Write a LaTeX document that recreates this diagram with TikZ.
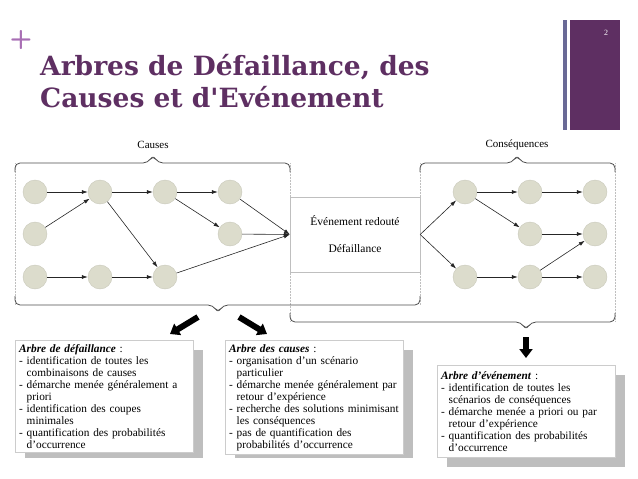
\documentclass[tikz,border=0pt]{standalone}
\usepackage{fontspec}
\setmainfont{Liberation Serif}
\newfontfamily\titlefont{DejaVu Serif}
\usetikzlibrary{arrows.meta, positioning}
\definecolor{titlepurple}{RGB}{94, 47, 98}
\definecolor{pluspurple}{RGB}{168, 110, 180}
\definecolor{barblue}{RGB}{106, 106, 150}
\definecolor{nodefill}{RGB}{220, 220, 204}
\definecolor{nodeline}{RGB}{200, 200, 186}
\definecolor{shadowgray}{RGB}{190, 190, 190}
\tikzset{
  evt/.style={circle, fill=nodefill, draw=nodeline, minimum size=24pt, inner sep=0pt},
  flow/.style={-{Latex[length=6pt, width=4pt]}, line width=0.6pt, black!85},
  brace/.style={rounded corners=5pt, line width=0.8pt, black!70},
  guide/.style={densely dotted, black!25, line width=0.5pt},
  fat/.style={-{Triangle[length=9pt, width=13pt]}, line width=6pt, black},
  infobox/.style={draw=black!20, fill=white, anchor=north west, align=left, inner sep=4pt,
    font=\fontsize{11.3}{12}\selectfont},
  shade/.style={fill=shadowgray, anchor=north west, inner sep=0pt}
}
\begin{document}
\begin{tikzpicture}[x=1pt, y=-1pt]
  \useasboundingbox (0,0) rectangle (638,479);

  % Title
  \node[text=pluspurple, font=\sffamily\bfseries\fontsize{26}{26}\selectfont] (plus) at (21,40) {+};
  \node[anchor=base west, text=titlepurple, font=\titlefont\bfseries\fontsize{26.5}{26.5}\selectfont, inner sep=0pt] (title1) at (40,75) {Arbres de Défaillance, des};
  \node[anchor=base west, text=titlepurple, font=\titlefont\bfseries\fontsize{26.5}{26.5}\selectfont, inner sep=0pt] (title2) at (40,107) {Causes et d'Evénement};
  \fill[barblue] (563,20) rectangle (567,130);
  \fill[titlepurple] (570,20) rectangle (620,130);
  \node[text=white, font=\fontsize{8}{8}\selectfont] (pagenum) at (606,33) {2};

  % Guides
  \draw[guide] (15,163) -- (15,305);
  \draw[guide] (290,163) -- (290,322);
  \draw[guide] (420,163) -- (420,305);
  \draw[guide] (615,163) -- (615,322);

  % Braces
  \draw[brace] (15,172) -- (15,163) -- (148,163) -- (153,155) -- (158,163) -- (290,163) -- (290,172);
  \node[font=\fontsize{11}{11}\selectfont] (causes) at (153,145) {Causes};
  \draw[brace] (420,172) -- (420,163) -- (512,163) -- (517,155) -- (522,163) -- (615,163) -- (615,172);
  \node[font=\fontsize{11}{11}\selectfont] (conseq) at (517,145) {Conséquences};
  \draw[brace] (15,296) -- (15,305) -- (213,305) -- (218,313) -- (223,305) -- (420,305) -- (420,296);
  \draw[brace] (290,313) -- (290,322) -- (521,322) -- (526,330) -- (531,322) -- (615,322) -- (615,313);

  % Central event
  \node[draw=black!25, minimum width=130pt, minimum height=75pt, align=center,
    font=\fontsize{11.5}{27}\selectfont] (event) at (355,234.5) {Événement redouté\\Défaillance};

  % Causes
  \node[evt] (ca11) at (35,192) {};
  \node[evt] (ca12) at (100,192) {};
  \node[evt] (ca13) at (165,192) {};
  \node[evt] (ca14) at (230,192) {};
  \node[evt] (ca21) at (35,234) {};
  \node[evt] (ca24) at (230,234) {};
  \node[evt] (ca31) at (35,277) {};
  \node[evt] (ca32) at (100,277) {};
  \node[evt] (ca33) at (165,277) {};
  \draw[flow] (ca11) -- (ca12);
  \draw[flow] (ca21) -- (ca12);
  \draw[flow] (ca12) -- (ca13);
  \draw[flow] (ca12) -- (ca33);
  \draw[flow] (ca13) -- (ca14);
  \draw[flow] (ca13) -- (ca24);
  \draw[flow] (ca31) -- (ca32);
  \draw[flow] (ca32) -- (ca33);
  \draw[flow] (ca14) -- (event.west);
  \draw[flow] (ca24) -- (event.west);
  \draw[flow] (ca33) -- (event.west);

  % Consequences
  \node[evt] (co11) at (465,192) {};
  \node[evt] (co12) at (530,192) {};
  \node[evt] (co13) at (595,192) {};
  \node[evt] (co22) at (530,234) {};
  \node[evt] (co23) at (595,234) {};
  \node[evt] (co31) at (465,277) {};
  \node[evt] (co32) at (530,277) {};
  \node[evt] (co33) at (595,277) {};
  \draw[flow] (event.east) -- (co11);
  \draw[flow] (event.east) -- (co31);
  \draw[flow] (co11) -- (co12);
  \draw[flow] (co11) -- (co22);
  \draw[flow] (co12) -- (co13);
  \draw[flow] (co22) -- (co23);
  \draw[flow] (co31) -- (co32);
  \draw[flow] (co32) -- (co23);
  \draw[flow] (co32) -- (co33);

  % Fat arrows
  \coordinate (fa1) at (198,317);
  \coordinate (fb1) at (170,334);
  \coordinate (fa2) at (239,317);
  \coordinate (fb2) at (267,334);
  \coordinate (fa3) at (526,337);
  \coordinate (fb3) at (526,358);
  \draw[fat] (fa1) -- (fb1);
  \draw[fat] (fa2) -- (fb2);
  \draw[fat] (fa3) -- (fb3);

  % Text boxes
  \fill[shadowgray] (25,350) rectangle (203,458);
  \node[infobox, minimum width=178pt, minimum height=108pt, text width=170pt] (fault) at (15,340)
    {\textbf{\textit{Arbre de défaillance}} :\\
     - identification de toutes les\\
     \hphantom{- }combinaisons de causes\\
     - démarche menée généralement a\\
     \hphantom{- }priori\\
     - identification des coupes\\
     \hphantom{- }minimales\\
     - quantification des probabilités\\
     \hphantom{- }d’occurrence};
  \fill[shadowgray] (235,350) rectangle (413,458);
  \node[infobox, minimum width=178pt, minimum height=108pt, text width=170pt] (causal) at (225,340)
    {\textbf{\textit{Arbre des causes}} :\\
     - organisation d’un scénario\\
     \hphantom{- }particulier\\
     - démarche menée généralement par\\
     \hphantom{- }retour d’expérience\\
     - recherche des solutions minimisant\\
     \hphantom{- }les conséquences\\
     - pas de quantification des\\
     \hphantom{- }probabilités d’occurrence};
  \fill[shadowgray] (447,375) rectangle (625,467);
  \node[infobox, minimum width=178pt, minimum height=92pt, text width=170pt] (eventtree) at (437,365)
    {\textbf{\textit{Arbre d’événement}} :\\
     - identification de toutes les\\
     \hphantom{- }scénarios de conséquences\\
     - démarche menée a priori ou par\\
     \hphantom{- }retour d’expérience\\
     - quantification des probabilités\\
     \hphantom{- }d’occurrence};
\end{tikzpicture}
\end{document}
